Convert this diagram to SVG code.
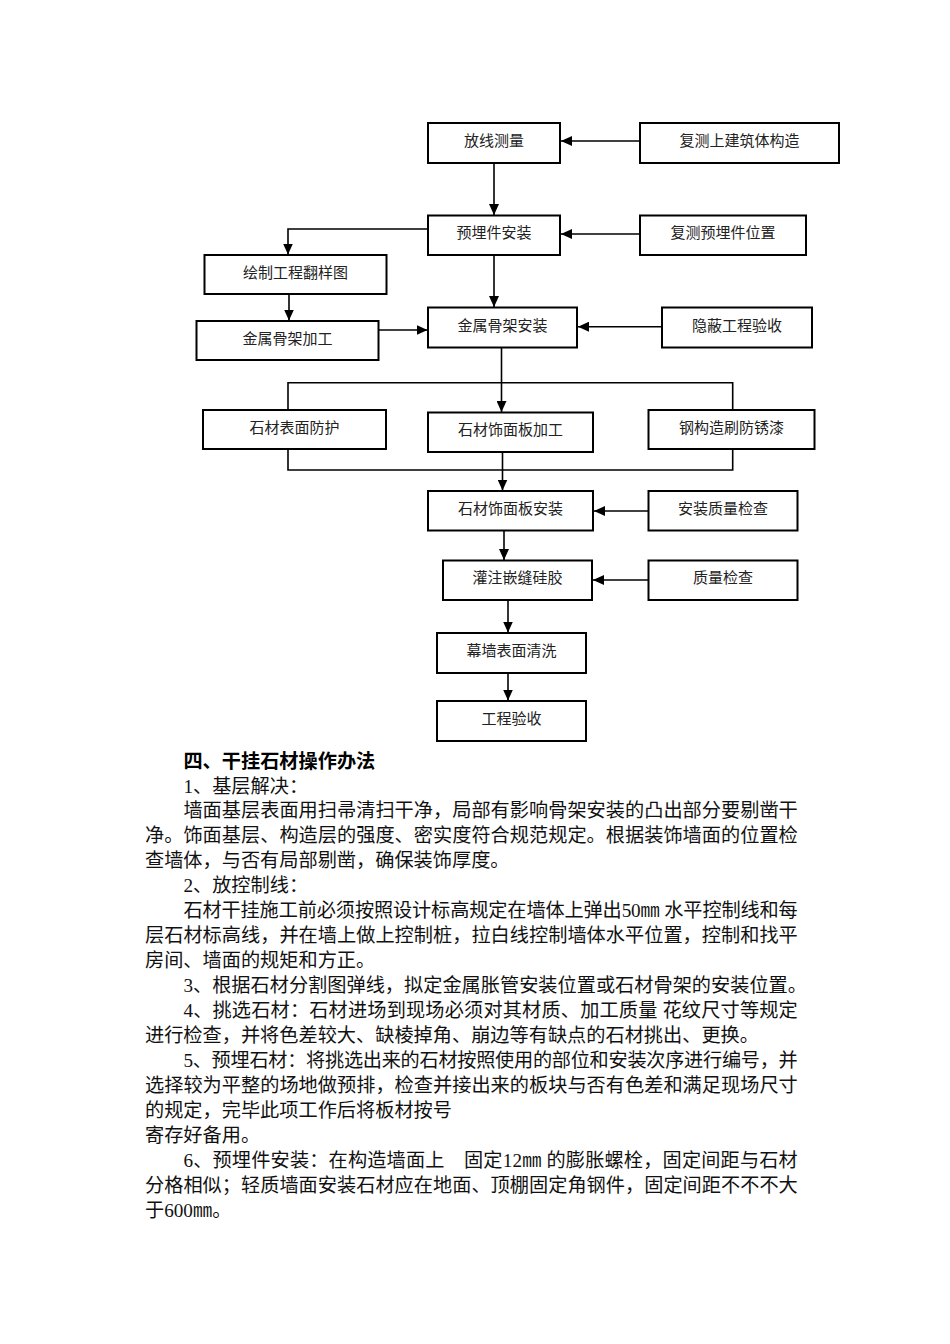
<svg xmlns="http://www.w3.org/2000/svg" width="950" height="1344" viewBox="0 0 950 1344">
<style>
.box{fill:#fff;stroke:#000;stroke-width:2}
.lbl{font-family:"Liberation Serif","Noto Sans CJK SC",serif;font-size:15px;fill:#222;text-anchor:middle}
.ln{fill:none;stroke:#000;stroke-width:1.6}
.p{font-family:"Liberation Serif","Noto Sans CJK SC",serif;font-size:19.2px;fill:#111}
.h{font-weight:bold;fill:#000}
</style>
<defs>
<marker id="ah" markerUnits="userSpaceOnUse" markerWidth="12" markerHeight="10" refX="11" refY="5" orient="auto">
<path d="M0,0 L11,5 L0,10 Z" fill="#000"/>
</marker>
</defs>
<rect width="950" height="1344" fill="#fff"/>
<g id="connectors">
<line class="ln" x1="640" y1="141" x2="561" y2="141" marker-end="url(#ah)"/>
<line class="ln" x1="494" y1="163" x2="494" y2="215" marker-end="url(#ah)"/>
<line class="ln" x1="640" y1="234" x2="561" y2="234" marker-end="url(#ah)"/>
<polyline class="ln" points="428,229 288,229 288,254.5" marker-end="url(#ah)"/>
<line class="ln" x1="494" y1="255" x2="494" y2="307" marker-end="url(#ah)"/>
<line class="ln" x1="289" y1="294" x2="289" y2="320.5" marker-end="url(#ah)"/>
<line class="ln" x1="378.5" y1="330" x2="427.5" y2="330" marker-end="url(#ah)"/>
<line class="ln" x1="662" y1="326.7" x2="578" y2="326.7" marker-end="url(#ah)"/>
<line class="ln" x1="501.5" y1="347.5" x2="501.5" y2="412" marker-end="url(#ah)"/>
<polyline class="ln" points="288,410 288,382.7 732.7,382.7 732.7,410"/>
<polyline class="ln" points="288,449 288,470 732.7,470 732.7,449"/>
<line class="ln" x1="502.5" y1="452" x2="502.5" y2="490.5" marker-end="url(#ah)"/>
<line class="ln" x1="648.5" y1="511" x2="594" y2="511" marker-end="url(#ah)"/>
<line class="ln" x1="504" y1="530.5" x2="504" y2="560" marker-end="url(#ah)"/>
<line class="ln" x1="648.5" y1="580" x2="593" y2="580" marker-end="url(#ah)"/>
<line class="ln" x1="508" y1="600" x2="508" y2="632.5" marker-end="url(#ah)"/>
<line class="ln" x1="508" y1="673" x2="508" y2="700.5" marker-end="url(#ah)"/>
</g>
<g id="n1"><rect class="box" x="428" y="123" width="132" height="40"/><text class="lbl" x="494" y="146">放线测量</text></g>
<g id="n2"><rect class="box" x="640" y="123" width="199" height="40"/><text class="lbl" x="739.5" y="146">复测上建筑体构造</text></g>
<g id="n3"><rect class="box" x="428" y="215.5" width="132" height="39.5"/><text class="lbl" x="494" y="238">预埋件安装</text></g>
<g id="n4"><rect class="box" x="640" y="215.5" width="166" height="39.5"/><text class="lbl" x="723" y="238">复测预埋件位置</text></g>
<g id="n5"><rect class="box" x="204.5" y="255" width="182" height="39"/><text class="lbl" x="295.5" y="277.5">绘制工程翻样图</text></g>
<g id="n6"><rect class="box" x="196.5" y="321" width="182" height="39"/><text class="lbl" x="287.5" y="343.5">金属骨架加工</text></g>
<g id="n7"><rect class="box" x="428" y="307.5" width="149" height="40"/><text class="lbl" x="502.5" y="330.5">金属骨架安装</text></g>
<g id="n8"><rect class="box" x="662" y="307.5" width="150" height="40"/><text class="lbl" x="737" y="330.5">隐蔽工程验收</text></g>
<g id="n9"><rect class="box" x="203" y="410" width="183" height="39"/><text class="lbl" x="294.5" y="432.5">石材表面防护</text></g>
<g id="n10"><rect class="box" x="428" y="412.5" width="165" height="39.5"/><text class="lbl" x="510.5" y="435">石材饰面板加工</text></g>
<g id="n11"><rect class="box" x="648.5" y="410" width="166" height="39"/><text class="lbl" x="731.5" y="432.5">钢构造刷防锈漆</text></g>
<g id="n12"><rect class="box" x="428" y="491" width="165" height="39.5"/><text class="lbl" x="510.5" y="513.5">石材饰面板安装</text></g>
<g id="n13"><rect class="box" x="648.5" y="491" width="149" height="39.5"/><text class="lbl" x="723" y="513.5">安装质量检查</text></g>
<g id="n14"><rect class="box" x="443" y="560.5" width="149" height="39.5"/><text class="lbl" x="517.5" y="583">灌注嵌缝硅胶</text></g>
<g id="n15"><rect class="box" x="648.5" y="560.5" width="149" height="39.5"/><text class="lbl" x="723" y="583">质量检查</text></g>
<g id="n16"><rect class="box" x="437" y="633" width="149" height="40"/><text class="lbl" x="511.5" y="656">幕墙表面清洗</text></g>
<g id="n17"><rect class="box" x="437" y="701" width="149" height="40"/><text class="lbl" x="511.5" y="724">工程验收</text></g>
<g id="body">
<text class="p h" x="183.4" y="767.5">四、干挂石材操作办法</text>
<text class="p" x="183.4" y="792.5">1、基层解决：</text>
<text class="p" x="183.4" y="817.4" textLength="614.4" lengthAdjust="spacing">墙面基层表面用扫帚清扫干净，局部有影响骨架安装的凸出部分要剔凿干</text>
<text class="p" x="145" y="842.4" textLength="652.8" lengthAdjust="spacing">净。饰面基层、构造层的强度、密实度符合规范规定。根据装饰墙面的位置检</text>
<text class="p" x="145" y="867.3">查墙体，与否有局部剔凿，确保装饰厚度。</text>
<text class="p" x="183.4" y="892.3">2、放控制线：</text>
<text class="p" x="183.4" y="917.2" textLength="614.4" lengthAdjust="spacing">石材干挂施工前必须按照设计标高规定在墙体上弹出50㎜ 水平控制线和每</text>
<text class="p" x="145" y="942.2" textLength="652.8" lengthAdjust="spacing">层石材标高线，并在墙上做上控制桩，拉白线控制墙体水平位置，控制和找平</text>
<text class="p" x="145" y="967.1">房间、墙面的规矩和方正。</text>
<text class="p" x="183.4" y="992.1">3、根据石材分割图弹线，拟定金属胀管安装位置或石材骨架的安装位置。</text>
<text class="p" x="183.4" y="1017" textLength="614.4" lengthAdjust="spacing">4、挑选石材：石材进场到现场必须对其材质、加工质量 花纹尺寸等规定</text>
<text class="p" x="145" y="1042">进行检查，并将色差较大、缺棱掉角、崩边等有缺点的石材挑出、更换。</text>
<text class="p" x="183.4" y="1066.9" textLength="614.4" lengthAdjust="spacing">5、预埋石材：将挑选出来的石材按照使用的部位和安装次序进行编号，并</text>
<text class="p" x="145" y="1091.9" textLength="652.8" lengthAdjust="spacing">选择较为平整的场地做预排，检查并接出来的板块与否有色差和满足现场尺寸</text>
<text class="p" x="145" y="1116.8">的规定，完毕此项工作后将板材按号</text>
<text class="p" x="145" y="1141.8">寄存好备用。</text>
<text class="p" x="183.4" y="1166.7" textLength="614.4" lengthAdjust="spacing" xml:space="preserve">6、预埋件安装：在构造墙面上　固定12㎜ 的膨胀螺栓，固定间距与石材</text>
<text class="p" x="145" y="1191.7" textLength="652.8" lengthAdjust="spacing">分格相似；轻质墙面安装石材应在地面、顶棚固定角钢件，固定间距不不不大</text>
<text class="p" x="145" y="1216.6">于600㎜。</text>
</g>
</svg>
